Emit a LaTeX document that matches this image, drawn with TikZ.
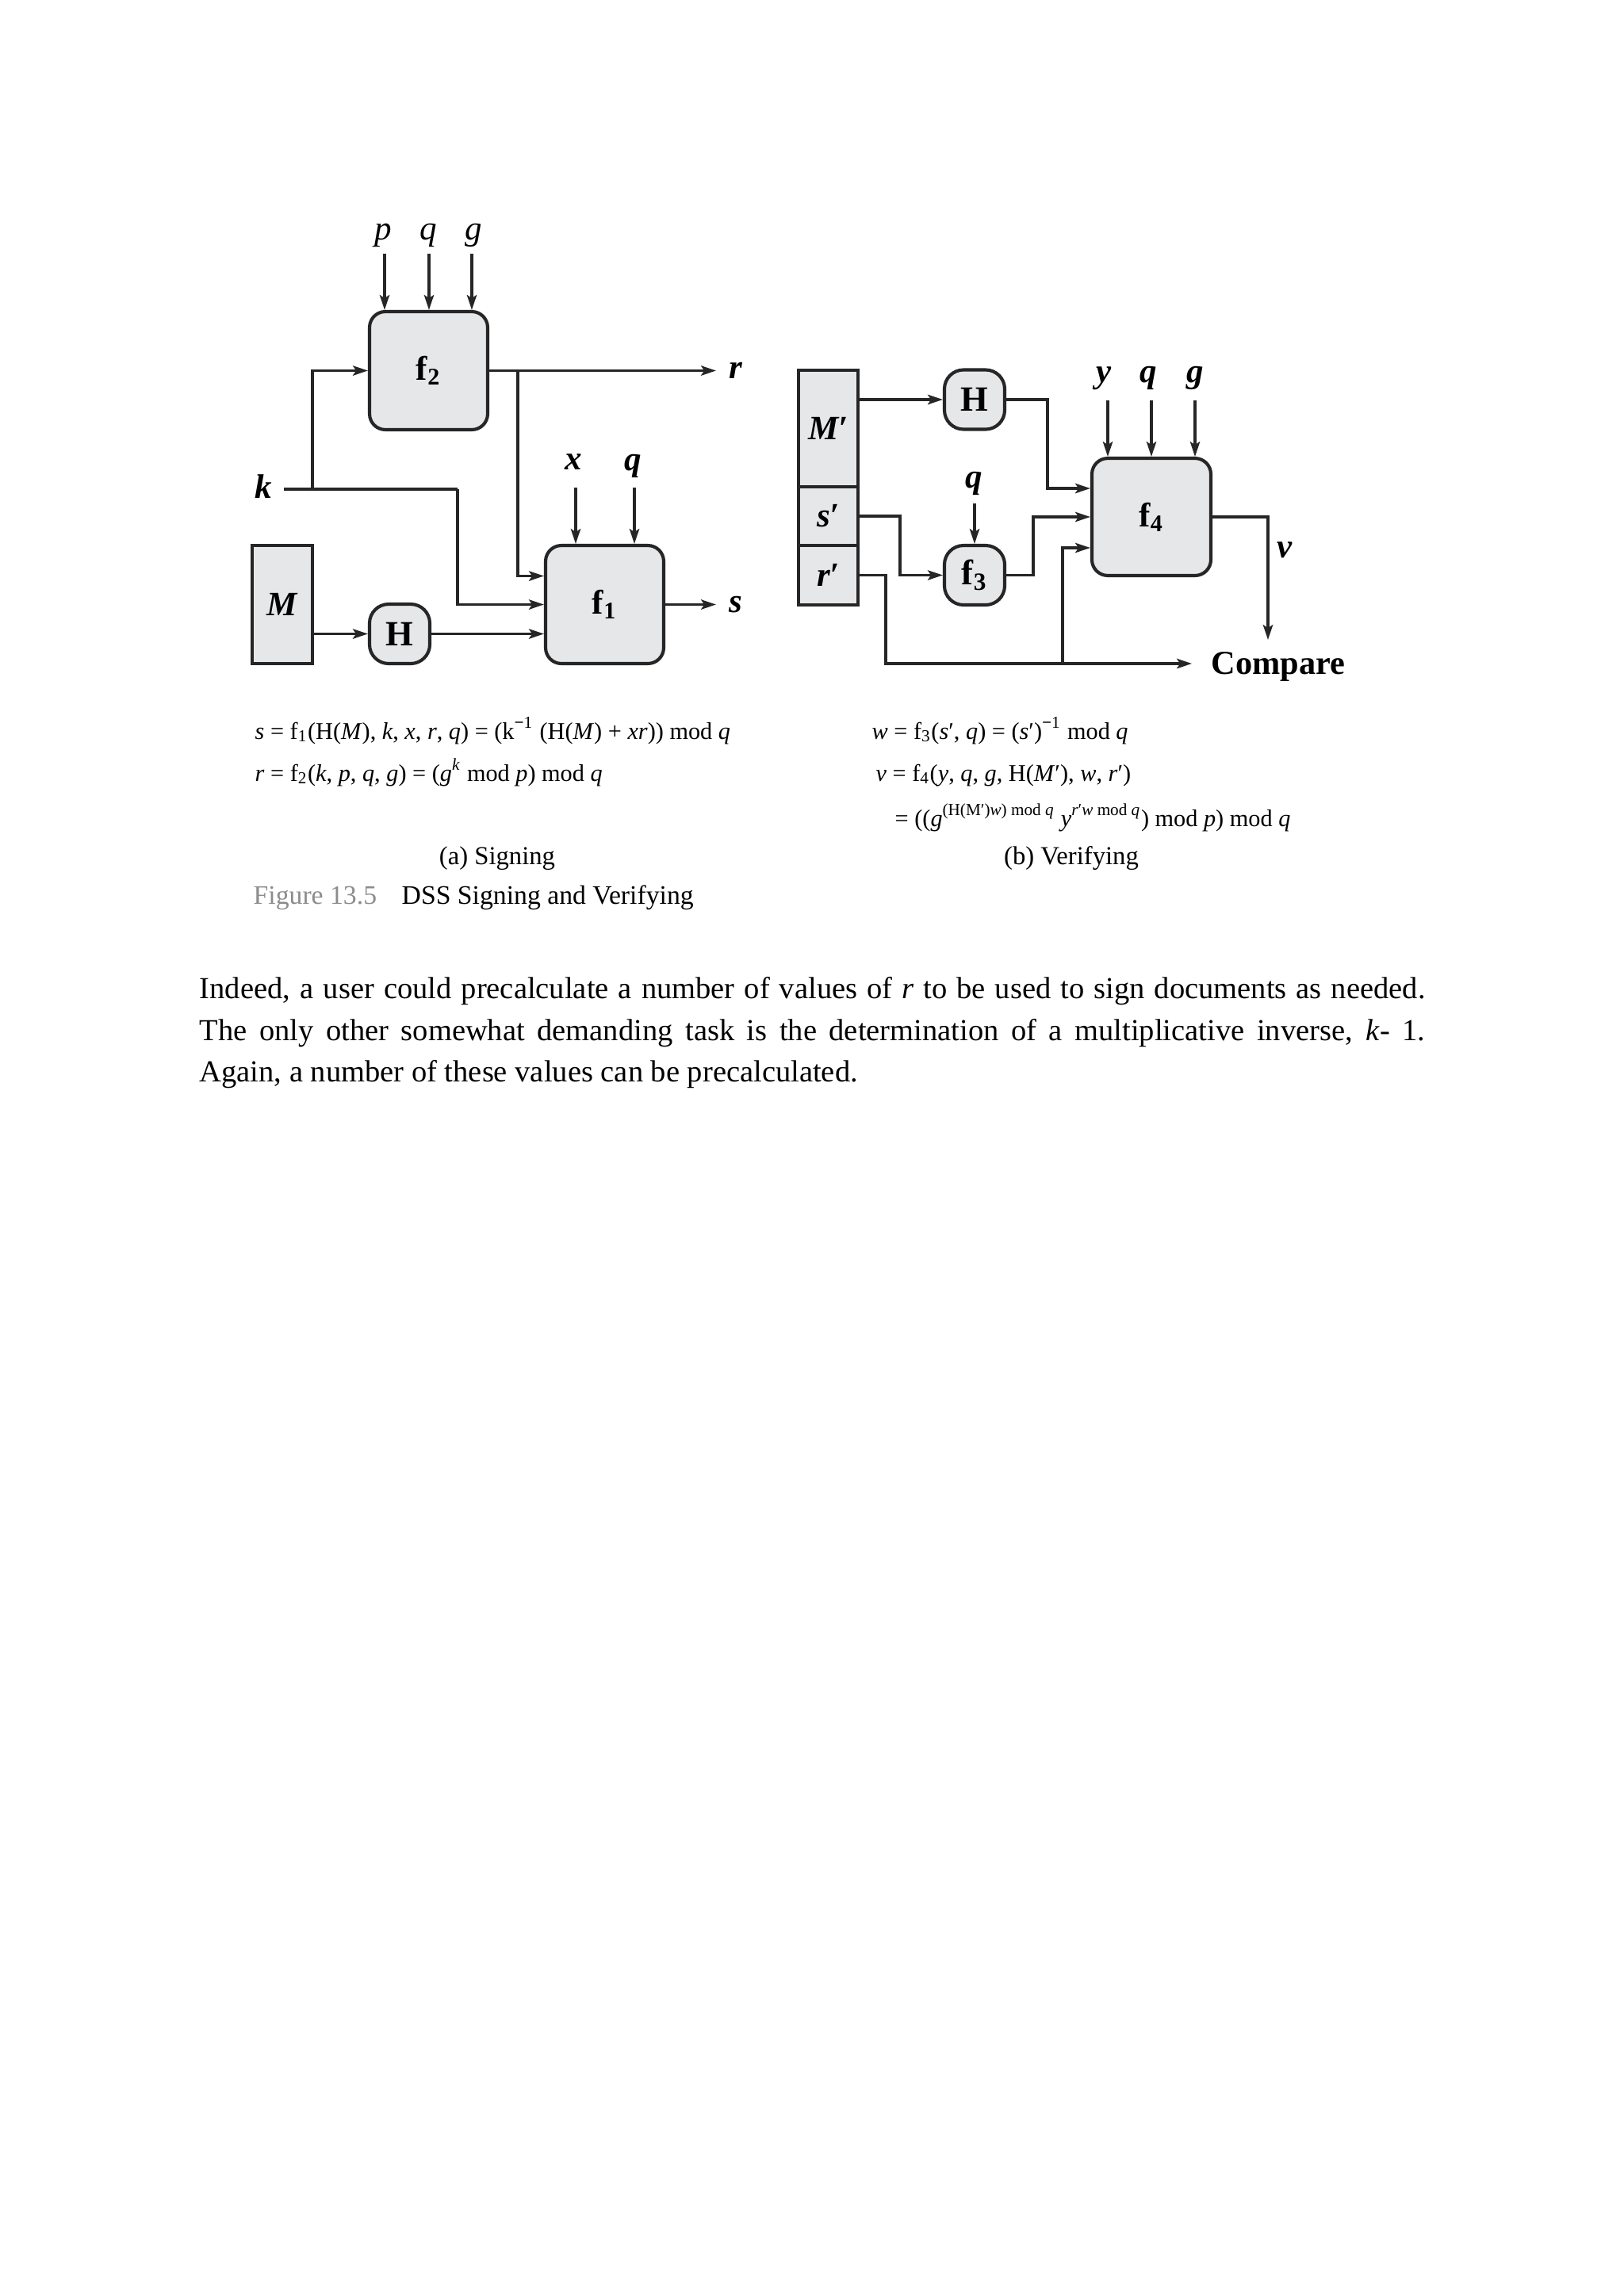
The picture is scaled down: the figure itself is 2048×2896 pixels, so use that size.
\documentclass[tikz,border=0pt]{standalone}
\usepackage{fontspec}
\setmainfont{Liberation Serif}
\usetikzlibrary{arrows.meta,calc}
\definecolor{linec}{HTML}{262626}
\definecolor{boxfill}{HTML}{E6E7E9}
\definecolor{figgray}{HTML}{8C8C8C}
\begin{document}
\begin{tikzpicture}[x=0.2907pt,y=-0.2907pt,
  lnk/.style={draw=linec,line width=0.95pt},
  conn/.style={lnk,-{Stealth[length=5.5pt,width=3.6pt,inset=1.2pt]}},
  fbox/.style={draw=linec,fill=boxfill,line width=1.2pt,rounded corners=5.8pt,inner sep=0pt,
     minimum width=43.3pt,minimum height=43.3pt,font=\fontsize{12.5}{14}\selectfont\bfseries},
  hbox/.style={draw=linec,fill=boxfill,line width=1.2pt,rounded corners=7pt,inner sep=0pt,
     minimum width=22.1pt,minimum height=21.8pt,font=\fontsize{13}{14}\selectfont\bfseries},
  mcell/.style={draw=linec,fill=boxfill,line width=1.2pt,inner sep=0pt,minimum width=21.8pt,
     font=\fontsize{12.5}{14}\selectfont\bfseries\itshape},
  var/.style={inner sep=0pt,anchor=base,font=\fontsize{12.5}{14}\selectfont\bfseries\itshape},
  varl/.style={inner sep=0pt,anchor=base,font=\fontsize{12.5}{14}\selectfont\itshape},
  captxt/.style={inner sep=0pt,anchor=base west,font=\fontsize{8.8}{11}\selectfont},
  subcap/.style={inner sep=0pt,anchor=base,font=\fontsize{9.5}{11}\selectfont},
  bodytxt/.style={inner sep=0pt,anchor=base west,font=\fontsize{11.2}{15.6}\selectfont}
]
\fill[white] (0,0) rectangle (2048,2896);
\useasboundingbox (0,0) rectangle (2048,2896);

% ---------------- (a) Signing ----------------
\node[fbox] (f2) at (540.5,467.5) {f\textsubscript{2}};
\node[fbox] (f1) at (762.5,762.5) {f\textsubscript{1}};
\node[hbox] (H) at (504,799.5) {H};
\node[mcell,minimum width=22.1pt,minimum height=43.3pt] (M) at (356,762.5) {M};

\node[varl] (plab) at (483,302) {p};
\node[varl] (qlab) at (540,302) {q};
\node[varl] (glab) at (597,302) {g};
\coordinate (pa) at (485,320);
\coordinate (qa) at (541,320);
\coordinate (ga) at (595,320);
\foreach \c in {pa,qa,ga} \draw[conn] (\c) -- (\c |- f2.north);

\node[var] (klab) at (332,628) {k};
\coordinate (kst) at (358,617);
\coordinate (kj) at (394,617);
\coordinate (kc) at (577,617);
\draw[lnk] (kst) -- (kc);
\draw[conn] (kj) |- (f2.west);
\draw[conn] (kc) |- (f1.west);

\coordinate (rend) at (903,0);
\coordinate (bj) at (653,0);
\draw[conn] (f2.east) -- (f2.east -| rend);
\node[var] (rlab) at (928,477) {r};
\draw[conn] (f2.east -| bj) |- ($(f1.west)+(0,-36)$);

\node[var] (xlab) at (723,592) {x};
\node[var] (q1lab) at (798,593) {q};
\coordinate (xa) at (726,615);
\coordinate (q1a) at (800,615);
\draw[conn] (xa) -- (xa |- f1.north);
\draw[conn] (q1a) -- (q1a |- f1.north);

\draw[conn] (f1.east) -- (f1.east -| rend);
\node[var] (slab) at (928,772) {s};

\draw[conn] (M.east |- H.west) -- (H.west);
\draw[conn] (H.east) -- (H.east -| f1.west);

% ---------------- (b) Verifying ----------------
\node[mcell,minimum height=42.7pt] (Mp) at (1044.5,540.5) {M′};
\node[mcell,minimum height=21.5pt] (Sp) at (1044.5,651) {s′};
\node[mcell,minimum height=21.8pt] (Rp) at (1044.5,725.5) {r′};
\node[hbox] (Hr) at (1229,504) {H};
\node[hbox] (f3) at (1229,725.5) {f\textsubscript{3}};
\node[fbox,minimum width=43.6pt,minimum height=43pt] (f4) at (1452,652) {f\textsubscript{4}};

\draw[conn] (Mp.east |- Hr.west) -- (Hr.west);
\coordinate (hj) at (1321,0);
\draw[conn] (Hr.east) -- (Hr.east -| hj) |- ($(f4.west)+(0,-36)$);

\node[var] (q3lab) at (1228,615) {q};
\coordinate (q3a) at (1229,635);
\draw[conn] (q3a) -- (q3a |- f3.north);

\coordinate (sj) at (1135,0);
\draw[conn] (Sp.east) -- (Sp.east -| sj) |- (f3.west);
\coordinate (tj) at (1303,0);
\draw[conn] (f3.east) -- (f3.east -| tj) |- (f4.west);

\coordinate (uj) at (1117,0);
\coordinate (cend) at (1503,837);
\draw[conn] (Rp.east) -- (Rp.east -| uj) |- (cend);
\coordinate (vj) at (1340,837);
\draw[conn] (vj) |- ($(f4.west)+(0,39)$);

\node[var] (ylab) at (1392,482) {y};
\node[var] (q4lab) at (1448,482) {q};
\node[var] (g4lab) at (1507,482) {g};
\coordinate (ya) at (1397,505);
\coordinate (q4a) at (1452,505);
\coordinate (g4a) at (1507,505);
\foreach \c in {ya,q4a,g4a} \draw[conn] (\c) -- (\c |- f4.north);

\coordinate (vend) at (1599,807);
\draw[conn] (f4.east) -| (vend);
\node[var] (vlab) at (1620,703) {v};
\node[inner sep=0pt,anchor=base west,font=\fontsize{12.3}{14}\selectfont\bfseries] (cmp) at (1527,850) {Compare};

% ---------------- captions ----------------
\node[captxt] (seq) at (321,932) {\textit{s} = f\textsubscript{1}(H(\textit{M}), \textit{k}, \textit{x}, \textit{r}, \textit{q}) = (k\textsuperscript{\textbf{−}1} (H(\textit{M}) + \textit{xr})) mod \textit{q}};
\node[captxt] (req) at (321,985) {\textit{r} = f\textsubscript{2}(\textit{k}, \textit{p}, \textit{q}, \textit{g}) = (\textit{g}\textsuperscript{\textit{k}} mod \textit{p}) mod \textit{q}};
\node[subcap] (suba) at (627,1090) {(a) Signing};
\node[captxt,font=\fontsize{9.8}{12}\selectfont,text=figgray] (fig) at (319,1140) {Figure 13.5};
\node[captxt,font=\fontsize{9.8}{12}\selectfont] (figt) at (506,1140) {DSS Signing and Verifying};

\node[captxt] (weq) at (1099,932) {\textit{w} = f\textsubscript{3}(\textit{s}′, \textit{q}) = (\textit{s}′)\textsuperscript{\textbf{−}1} mod \textit{q}};
\node[captxt] (veq) at (1104,985) {\textit{v} = f\textsubscript{4}(\textit{y}, \textit{q}, \textit{g}, H(\textit{M}′), \textit{w}, \textit{r}′)};
\node[captxt] (veq2) at (1128,1042) {= ((\textit{g}\textsuperscript{(H(M′)\textit{w}) mod \textit{q}} \textit{y}\textsuperscript{\textit{r}′\textit{w} mod \textit{q}}) mod \textit{p}) mod \textit{q}};
\node[subcap] (subb) at (1351,1090) {(b) Verifying};

% ---------------- body text ----------------
\node[bodytxt] (l1) at (251,1259) {\makebox[449.4pt][s]{Indeed, a user could precalculate a number of values of \textit{r} to be used to sign documents as needed.}};
\node[bodytxt] (l2) at (251,1312) {\makebox[449.4pt][s]{The only other somewhat demanding task is the determination of a multiplicative inverse, \textit{k}- 1.}};
\node[bodytxt] (l3) at (251,1364) {Again, a number of these values can be precalculated.};
\end{tikzpicture}
\end{document}
